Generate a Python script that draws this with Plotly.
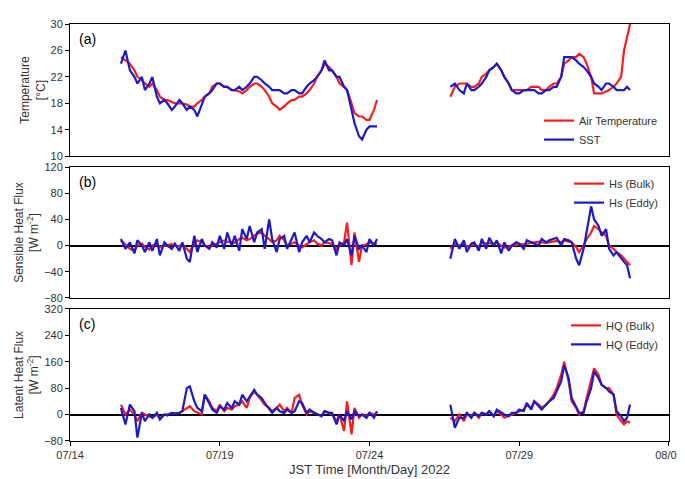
import plotly.graph_objects as go

# time in days since 07/14 (0 = 07/14)
t1 = [1.7,1.85,2.0,2.15,2.25,2.4,2.5,2.65,2.75,2.9,3.0,3.15,3.25,3.4,3.5,3.65,3.75,3.9,4.0,4.15,4.25,4.4,4.5,4.65,4.75,4.9,5.0,5.15,5.25,5.4,5.5,5.65,5.75,5.9,6.0,6.15,6.25,6.4,6.5,6.65,6.75,6.9,7.0,7.15,7.25,7.4,7.5,7.65,7.75,7.9,8.0,8.15,8.25,8.4,8.5,8.65,8.75,8.9,9.0,9.15,9.25,9.4,9.5,9.65,9.75,9.9,10.0,10.15,10.25]
t2 = [12.7,12.85,13.0,13.15,13.25,13.4,13.5,13.65,13.75,13.9,14.0,14.15,14.25,14.4,14.5,14.65,14.75,14.9,15.0,15.15,15.25,15.4,15.5,15.65,15.75,15.9,16.0,16.15,16.25,16.4,16.5,16.65,16.75,16.9,17.0,17.15,17.25,17.4,17.5,17.65,17.75,17.9,18.0,18.15,18.25,18.4,18.5,18.6,18.7]

air1 = [25,24.5,24,23,22,21.5,21,20.5,21,20,19,18.5,18.5,18.2,18,18,18,17.8,17.5,17.5,18,18.5,19,19.5,20.5,21,21,20.5,20.5,20,20,19.8,19.5,20,20.5,21,21,20.5,20,19,18,17.5,17,17.5,18,18.5,18.5,19,19,19.5,20,21,22,23,24,23.5,23,22,21,20.5,20,18,16.5,16,16,15.5,15.5,17,18.5]
sst1 = [24,26,23,22,21,22,20,21,22,19,18,18.5,18,17,17.5,18.5,18,17,17.5,17,16,18,19,19.5,20,21,21,20.5,20.5,20,20,20.5,20,20.5,21,22,22,21.5,21,20.5,20,20,20,19.5,19.5,20,20,19.5,19.5,20.5,21,21.5,22,23,24.5,23,23,22,22,20.5,20,17,15,13,12.5,14,14.5,14.5,14.5]
air2 = [19,20.5,21,21,21,20.5,20.5,21,22,22.5,23,23.5,24,23,22,21,20,20,20,20,20,20.5,20.5,20.5,20,20,20.5,21,21,22,24,24.5,25,25,25.5,25,24,22,19.5,19.5,19.5,19.8,20,20.5,21,22,26,28,30]
sst2 = [20.5,21,20,19.5,21,20,20,20.5,21,22,23,23.5,24,23,22,21,20,19.5,19.5,20,20,20,20,19.5,19.5,20,20,20.5,20.5,22,25,25,25,24.5,24,23.5,23,22,21,20.5,20,21,21,20.5,20,20,20,20.5,20]

hsb1 = [8,2,-5,-8,0,3,-2,-6,0,2,-3,0,1,2,0,-1,2,-5,-10,3,8,5,0,-2,0,2,5,8,6,5,4,10,12,8,10,15,18,20,15,10,5,8,15,8,0,3,5,0,-3,2,5,8,3,0,5,4,2,-5,0,5,35,-30,20,-25,0,2,5,3,2]
hse1 = [10,-5,5,-12,8,0,-10,5,-8,10,-15,5,0,-5,3,-8,5,-20,-25,15,-10,10,0,-5,5,-3,15,-5,20,0,15,-8,25,10,30,5,20,25,-5,40,10,-10,10,15,-5,10,20,-10,5,15,5,20,15,10,5,10,8,-15,5,0,10,-15,15,-5,0,-10,10,0,10]
hsb2 = [-5,2,0,3,-2,0,2,-3,5,3,4,2,5,0,-3,-2,0,1,2,2,3,4,5,6,5,4,5,6,7,5,8,6,5,-2,-10,0,10,20,30,25,20,15,0,-5,-10,-15,-20,-25,-30]
hse2 = [-20,10,-5,8,-10,3,5,-8,10,-5,12,0,8,-12,5,-8,0,5,3,-5,8,5,3,0,10,5,8,10,12,0,10,8,5,-20,-30,-5,20,60,40,30,15,25,-5,-15,-10,-20,-25,-30,-50]

hqb1 = [30,0,15,0,-20,5,0,-5,-10,0,-10,0,0,5,3,5,10,20,25,10,5,0,60,40,20,10,30,10,20,15,25,30,40,20,50,70,60,40,30,20,10,20,30,10,20,5,50,60,30,0,10,5,0,-5,10,5,0,-20,0,-50,40,-60,20,-10,0,-5,5,0,5]
hqe1 = [20,-30,30,10,-70,5,-20,0,-10,5,-15,0,-3,5,3,5,10,80,85,40,20,10,60,30,15,5,25,15,35,20,40,30,60,40,55,75,60,50,35,15,5,20,10,5,15,5,10,40,35,5,15,5,0,-5,10,5,5,-30,0,-20,10,-15,10,-5,0,-10,5,-10,10]
hqb2 = [-10,-20,0,-20,0,-5,5,-10,5,0,10,-5,10,0,-10,-5,0,5,10,15,30,20,40,30,20,30,40,60,80,120,160,100,40,20,0,10,50,100,140,120,90,80,80,60,0,-20,-30,-20,-25]
hqe2 = [30,-40,-10,-10,5,-10,5,-5,5,0,10,-5,15,5,0,-5,5,5,15,10,35,15,40,25,15,30,40,50,70,100,150,110,50,25,5,5,40,80,130,110,90,80,70,60,10,-5,-20,-10,30]

tickvals = [0,5,10,15,20]
ticklabels = ["07/14","07/19","07/24","07/29","08/03"]
RED, BLUE = "#ff1a1a", "#1a1acc"

fig = go.Figure()
def add(t, y, color, name, ax, leg, show):
    fig.add_trace(go.Scatter(x=t, y=y, mode="lines", line=dict(color=color, width=2.2),
                             name=name, showlegend=show, legendgroup=name,
                             xaxis="x"+ax, yaxis="y"+ax, legend=leg))

add(t1, air1, RED, "Air Temperature", "", "legend", True); add(t2, air2, RED, "Air Temperature", "", "legend", False)
add(t1, sst1, BLUE, "SST", "", "legend", True); add(t2, sst2, BLUE, "SST", "", "legend", False)
add(t1, hsb1, RED, "Hs (Bulk)", "2", "legend2", True); add(t2, hsb2, RED, "Hs (Bulk)", "2", "legend2", False)
add(t1, hse1, BLUE, "Hs (Eddy)", "2", "legend2", True); add(t2, hse2, BLUE, "Hs (Eddy)", "2", "legend2", False)
add(t1, hqb1, RED, "HQ (Bulk)", "3", "legend3", True); add(t2, hqb2, RED, "HQ (Bulk)", "3", "legend3", False)
add(t1, hqe1, BLUE, "HQ (Eddy)", "3", "legend3", True); add(t2, hqe2, BLUE, "HQ (Eddy)", "3", "legend3", False)

FF = "Liberation Sans, Arial"
font = dict(family=FF, size=11, color="#333")
tfont = dict(family=FF, size=12, color="#333")
ax_common = dict(showline=True, linecolor="black", mirror=True, showgrid=False, ticks="outside",
                 ticklen=4, tickcolor="black", tickfont=font, zeroline=False)
xa = dict(ax_common, range=[-0.001,20.001], tickvals=tickvals, ticktext=ticklabels)
doms = [[0.683,1.0],[0.343,0.657],[0.0,0.317]]
leg = dict(x=0.99, xanchor="right", bgcolor="rgba(0,0,0,0)", font=font, tracegroupgap=0, itemwidth=30)
fig.update_layout(
    width=685, height=479, margin=dict(l=62, r=22, t=10, b=46),
    paper_bgcolor="white", plot_bgcolor="white",
    xaxis=dict(xa, anchor="y", showticklabels=False, ticks=""),
    xaxis2=dict(xa, anchor="y2", showticklabels=False, ticks="", matches="x"),
    xaxis3=dict(xa, anchor="y3", matches="x",
                title=dict(text="JST Time [Month/Day] 2022", font=dict(family=FF, size=13, color="#333"), standoff=4)),
    yaxis=dict(ax_common, domain=doms[0], range=[9.98,30.02], tickvals=[10,14,18,22,26,30],
               title=dict(text="Temperature<br>[°C]", font=tfont, standoff=2)),
    yaxis2=dict(ax_common, domain=doms[1], range=[-80.2,120.2], tickvals=[-80,-40,0,40,80,120], zeroline=True, zerolinecolor="black", zerolinewidth=2,
                title=dict(text="Sensible Heat Flux<br>[W m<sup>-2</sup>]", font=tfont, standoff=2)),
    yaxis3=dict(ax_common, domain=doms[2], range=[-80.3,320.3], tickvals=[-80,0,80,160,240,320], zeroline=True, zerolinecolor="black", zerolinewidth=2,
                title=dict(text="Latent Heat Flux<br>[W m<sup>-2</sup>]", font=tfont, standoff=2)),
    legend=dict(leg, y=doms[0][0]+0.005, yanchor="bottom"),
    legend2=dict(leg, y=doms[1][1]-0.005, yanchor="top"),
    legend3=dict(leg, y=doms[2][1]-0.005, yanchor="top"),
    annotations=[dict(text=s, x=0.012, y=d[1]-0.012, xref="paper", yref="paper", xanchor="left", yanchor="top",
                      showarrow=False, font=dict(family=FF, size=14, color="black"))
                 for s, d in zip(["(a)","(b)","(c)"], doms)],
)
fig.write_html("out.html")
